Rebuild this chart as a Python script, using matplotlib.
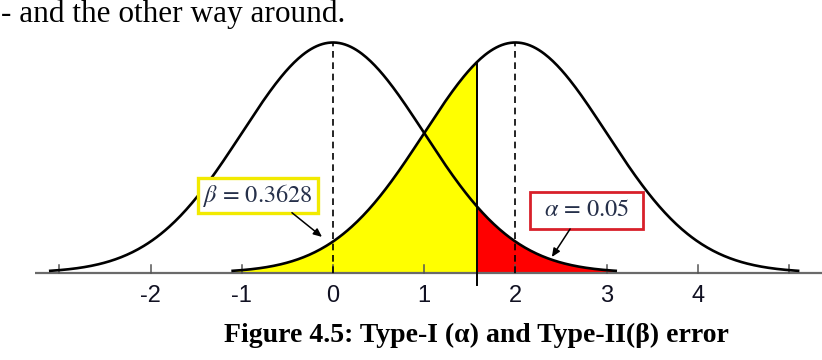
import numpy as np
import matplotlib
matplotlib.use("Agg")
import matplotlib.pyplot as plt
from matplotlib.patches import Rectangle

plt.rcParams['mathtext.fontset'] = 'stix'

# the two distributions (H0 and H1) and the critical value
means = [0.0, 2.0]
sd = 1.0
spread = 3.1
crit = 1.58

tick_vals = [-3, -2, -1, 0, 1, 2, 3, 4, 5]
label_vals = [-2, -1, 0, 1, 2, 3, 4]

beta_text = r"$\beta$ = 0.3628"
alpha_text = r"$\alpha$ = 0.05"
caption = "Figure 4.5: Type-I (\u03b1) and Type-II(\u03b2) error"
top_line = "- and the other way around."


def pdf(x, m):
    return np.exp(-0.5 * ((x - m) / sd) ** 2) / (sd * np.sqrt(2 * np.pi))


fig = plt.figure(figsize=(8.22, 3.6), dpi=100)
ax = fig.add_axes([0, 0, 1, 1])
ax.set_xlim(-3.651, 5.362)
ax.set_ylim(-0.1513, 0.4726)
ax.axis('off')

# shaded error regions
xb = np.linspace(means[1] - spread, crit, 300)
ax.fill_between(xb, 0, pdf(xb, means[1]), color='#ffff00', lw=0, zorder=1)
xa = np.linspace(crit, means[0] + spread, 300)
ax.fill_between(xa, 0, pdf(xa, means[0]), color='#ff0000', lw=0, zorder=1)

# axis line and ticks
ax.plot([-3.27, 5.362], [0, 0], color='#6a6a6a', lw=1.6, zorder=2,
        solid_capstyle='butt')
for t in tick_vals:
    ax.plot([t, t], [0, 0.013], color='#555555', lw=1.1, zorder=2)
for v in label_vals:
    ax.text(v, -0.040, str(v), ha='center', va='center', fontsize=17,
            color='#111122', family='Liberation Sans')

# curves
for m in means:
    xs = np.linspace(m - spread, m + spread, 400)
    ax.plot(xs, pdf(xs, m), color='black', lw=1.9, zorder=4)
    ax.plot([m, m], [0, pdf(m, m)], color='black', lw=1.2,
            linestyle=(0, (4, 2.8)), zorder=3)

# critical value
ax.plot([crit, crit], [-0.0214, pdf(crit, means[1])], color='black',
        lw=1.4, zorder=3)

# annotation boxes
box_kw = dict(ha='center', va='center', fontsize=17.5, color='#26304a',
              family='STIXGeneral', zorder=7)
ax.add_patch(Rectangle((-0.822 - 0.658, 0.1338 - 0.0303), 1.316, 0.0607,
                       fc='white', ec='#f2ea00', lw=2.4, zorder=6))
ax.text(-0.822, 0.1338, beta_text, **box_kw)
ax.add_patch(Rectangle((2.78 - 0.62, 0.1078 - 0.032), 1.239, 0.0641,
                       fc='white', ec='#d8202a', lw=2.0, zorder=6))
ax.text(2.78, 0.1078, alpha_text, **box_kw)

arrow_kw = dict(arrowstyle='-|>,head_length=0.5,head_width=0.22', color='black',
                lw=1.1, shrinkA=0, shrinkB=0)
ax.annotate('', xy=(-0.12, 0.062), xytext=(-0.45, 0.104),
            arrowprops=arrow_kw, zorder=8)
ax.annotate('', xy=(2.40, 0.0272), xytext=(2.60, 0.0758),
            arrowprops=arrow_kw, zorder=8)

# surrounding document text
fig.text(0.001, 1 - 22 / 360, top_line, ha='left', va='baseline', fontsize=22.5,
         family='Liberation Serif', color='black')
fig.text(0.579, 1 - 342 / 360, caption, ha='center', va='baseline', fontsize=20,
         family='Liberation Serif', weight='bold', color='black')

fig.savefig('out.png', dpi=100)
